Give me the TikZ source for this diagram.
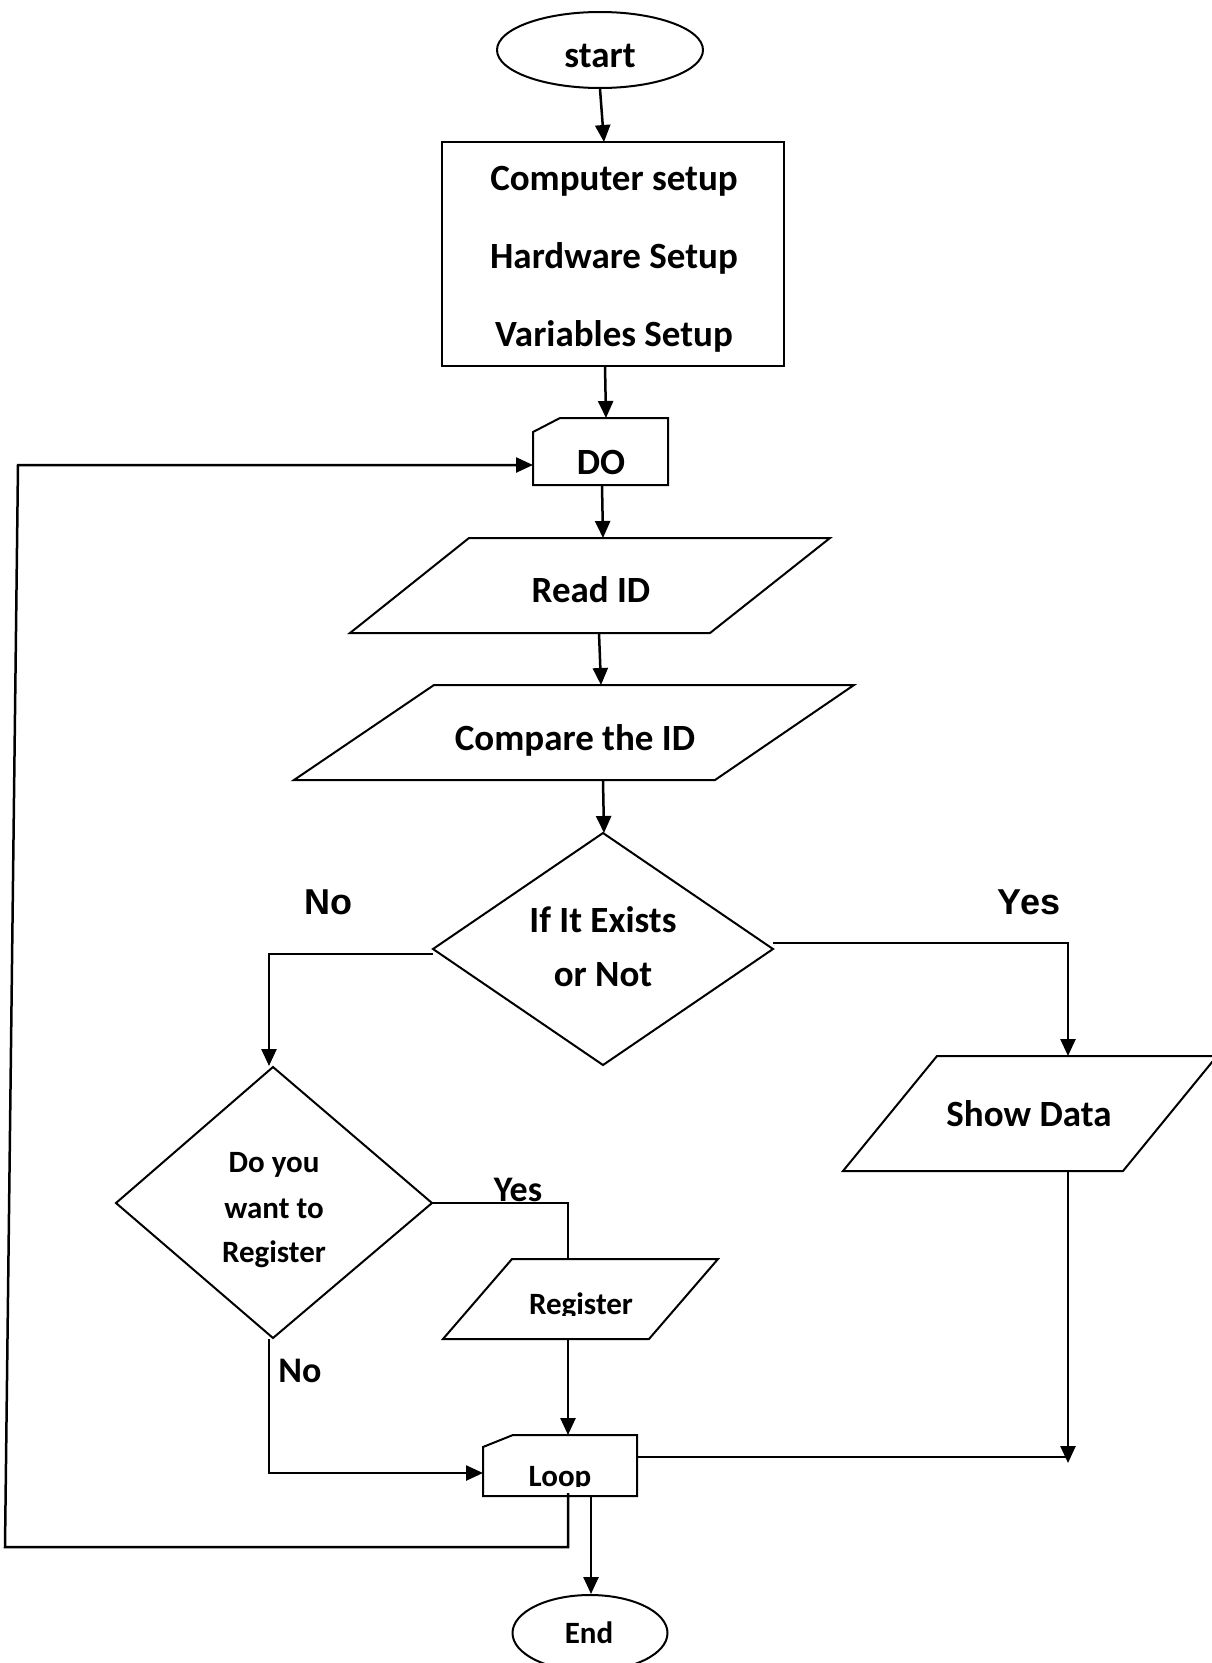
\documentclass[tikz,border=0pt]{standalone}
\usepackage{fontspec}
\setmainfont{Carlito}
\newfontfamily\labfont{Liberation Sans}
\usetikzlibrary{arrows.meta,shapes.geometric}
\begin{document}
\begin{tikzpicture}[x=1pt,y=-1pt,
  shp/.style={draw=black,line width=2pt,line join=miter},
  conn/.style={draw=black,line width=2.5pt},
  arr/.style={conn,-{Triangle[length=17pt,width=15pt]}},
  bigtxt/.style={inner sep=0pt,font=\bfseries\fontsize{37}{44}\selectfont,text height=24pt,text depth=0pt},
  smalltxt/.style={inner sep=0pt,font=\bfseries\fontsize{31}{38}\selectfont,text height=20pt,text depth=0pt},
  armlab/.style={inner sep=0pt,font=\labfont\bfseries\fontsize{36}{42}\selectfont,text height=25.8pt,text depth=0pt},
  callab/.style={inner sep=0pt,font=\bfseries\fontsize{36}{42}\selectfont,text height=23.2pt,text depth=0pt}]
\useasboundingbox (0,0) rectangle (1211,1663);

% ---------- shapes ----------
\node[shp,ellipse,minimum width=206pt,minimum height=76pt,inner sep=0pt] (start) at (600,50) {};
\node[bigtxt] (starttxt) at (600,55) {start};

\node[shp,rectangle,minimum width=342pt,minimum height=224pt,inner sep=0pt] (setup) at (613,254) {};
\node[bigtxt] (t1) at (614,178) {Computer setup};
\node[bigtxt] (t2) at (614,256) {Hardware Setup};
\node[bigtxt] (t3) at (614,334) {Variables Setup};

\draw[shp] (533,432) -- (560,418) -- (668,418) -- (668,485) -- (533,485) -- cycle;
\node[bigtxt] (dotxt) at (601,462) {DO};

\draw[shp] (469,538) -- (830,538) -- (710,633) -- (350,633) -- cycle;
\node[bigtxt] (readtxt) at (591,590) {Read ID};

\draw[shp] (434,685) -- (854,685) -- (715,780) -- (294,780) -- cycle;
\node[bigtxt] (cmptxt) at (575,738) {Compare the ID};

\draw[shp] (603,833) -- (773,949) -- (603,1065) -- (433,949) -- cycle;
\node[bigtxt] (ex1) at (603,920) {If It Exists};
\node[bigtxt] (ex2) at (603,974) {or Not};

\draw[shp] (937,1056) -- (1217,1056) -- (1123,1171) -- (843,1171) -- cycle;
\node[bigtxt] (showtxt) at (1029,1114) {Show Data};

\draw[shp] (273,1067) -- (432,1203) -- (273,1338) -- (116,1203) -- cycle;
\node[smalltxt] (q1) at (274,1162) {Do you};
\node[smalltxt] (q2) at (274,1208) {want to};
\node[smalltxt] (q3) at (274,1252) {Register};

\draw[shp] (512,1259) -- (718,1259) -- (649,1339) -- (443,1339) -- cycle;
\begin{scope}
  \clip (400,1200) rectangle (760,1315);
  \node[smalltxt] (regtxt) at (581,1304) {Register};
\end{scope}

\draw[shp] (483,1447) -- (513,1435) -- (637,1435) -- (637,1496) -- (483,1496) -- cycle;
\begin{scope}
  \clip (400,1400) rectangle (700,1486);
  \node[smalltxt] (looptxt) at (560,1476) {Loop};
\end{scope}

\node[shp,ellipse,minimum width=155pt,minimum height=76pt,inner sep=0pt] (endn) at (590,1633) {};
\node[smalltxt] (endtxt) at (589,1633) {End};

% ---------- labels ----------
\node[armlab] (no1) at (328,902) {No};
\node[armlab] (yes1) at (1029,902) {Yes};
\node[callab] (yes2) at (518,1190) {Yes};
\node[callab] (no2) at (300,1371) {No};

% ---------- connection points ----------
\coordinate (setupT) at (604,142);
\coordinate (setupB) at (605,366);
\coordinate (doT) at (606,418);
\coordinate (doB) at (602,485);
\coordinate (doL) at (533,465);
\coordinate (readT) at (603,538);
\coordinate (readB) at (599,633);
\coordinate (cmpT) at (601,685);
\coordinate (cmpB) at (603,780);
\coordinate (d1T) at (604,833);
\coordinate (d1L) at (433,954);
\coordinate (d1R) at (773,943);
\coordinate (d2T) at (269,1066);
\coordinate (d2R) at (432,1203);
\coordinate (d2B) at (269,1339);
\coordinate (showT) at (1068,1056);
\coordinate (showB) at (1068,1171);
\coordinate (regT) at (568,1259);
\coordinate (regB) at (568,1339);
\coordinate (loopT) at (568,1435);
\coordinate (loopL) at (483,1473);
\coordinate (loopR) at (637,1457);
\coordinate (loopB1) at (568,1493);
\coordinate (loopB2) at (591,1496);
\coordinate (endT) at (591,1594);
\coordinate (rightEnd) at (1068,1457);
\coordinate (rightTip) at (1068,1463);
\coordinate (backBR) at (568,1547);
\coordinate (backBL) at (5,1547);
\coordinate (backTL) at (18,465);

% ---------- connectors ----------
\draw[arr] (start.south) -- (setupT);
\draw[arr] (setupB) -- (doT);
\draw[arr] (doB) -- (readT);
\draw[arr] (readB) -- (cmpT);
\draw[arr] (cmpB) -- (d1T);
\draw[arr] (d1L) -| (d2T);
\draw[arr] (d1R) -| (showT);
\draw[conn] (d2R) -| (regT);
\draw[arr] (regB) -- (loopT);
\draw[arr] (d2B) |- (loopL);
\draw[arr] (showB) -- (rightTip);
\draw[conn] (loopR) -- (rightEnd);
\draw[arr] (loopB2) -- (endT);
\draw[arr,line join=miter] (loopB1) -- (backBR) -- (backBL) -- (backTL) -- (doL);
\end{tikzpicture}
\end{document}
